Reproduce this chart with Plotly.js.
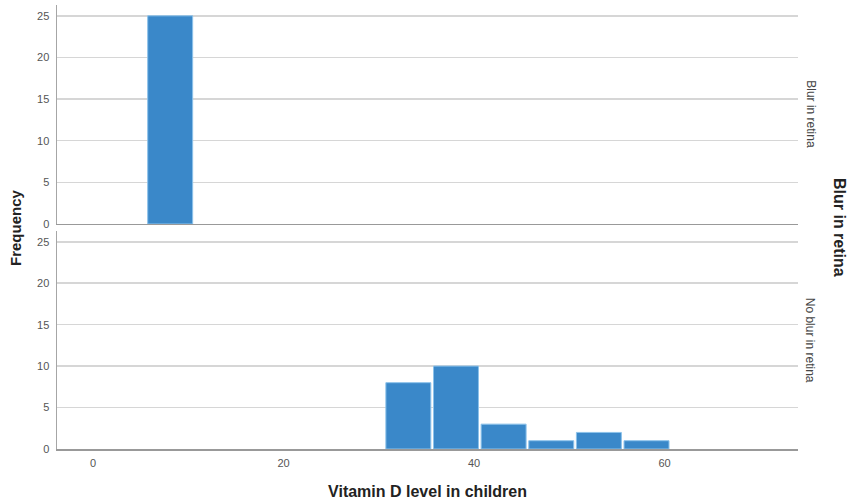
<!DOCTYPE html>
<html>
<head>
<meta charset="utf-8">
<script src="https://cdn.plot.ly/plotly-3.0.1.min.js"></script>
<style>html,body{margin:0;padding:0;background:#fff;}#chart{width:851px;height:504px;}</style>
</head>
<body>
<div id="chart"></div>
<script>
// Bin centres (Vitamin D level) and frequencies per panel
const blurCenters = [8.1];
const blurCounts = [25];
const noBlurCenters = [33.1, 38.1, 43.1, 48.1, 53.1, 58.1];
const noBlurCounts = [8, 10, 3, 1, 2, 1];
const panelLabels = ["Blur in retina", "No blur in retina"];
const xTicks = [0, 20, 40, 60];
const yTicks = [0, 5, 10, 15, 20, 25];

const barStyle = {color: '#3a88c9', line: {color: '#8cc2ea', width: 1}};
const font = 'Arial, "Liberation Sans", sans-serif';

const traces = [
  {type: 'bar', x: blurCenters, y: blurCounts, width: 4.72, marker: barStyle, xaxis: 'x', yaxis: 'y', hoverinfo: 'x+y'},
  {type: 'bar', x: noBlurCenters, y: noBlurCounts, width: 4.72, marker: barStyle, xaxis: 'x2', yaxis: 'y2', hoverinfo: 'x+y'}
];

const yBase = {
  range: [0, 26.3], tickvals: yTicks, ticks: '', showgrid: true, gridcolor: '#d6d6d6', gridwidth: 1.5,
  showline: true, linecolor: '#a6a6a6', linewidth: 1.5, zeroline: false,
  tickfont: {family: font, size: 11, color: '#555'}, ticklabelstandoff: 4
};
const xBase = {
  range: [-3.78, 74], tickvals: xTicks, ticks: '', showgrid: false, zeroline: false,
  showline: true, linecolor: '#999', linewidth: 1.5,
  tickfont: {family: font, size: 11, color: '#555'}
};

const layout = {
  width: 851, height: 504,
  margin: {l: 57, r: 53, t: 5, b: 55},
  paper_bgcolor: '#fff', plot_bgcolor: '#fff',
  showlegend: false, bargap: 0,
  xaxis: Object.assign({}, xBase, {anchor: 'y', showticklabels: false}),
  yaxis: Object.assign({}, yBase, {domain: [0.5068, 1], anchor: 'x'}),
  xaxis2: Object.assign({}, xBase, {anchor: 'y2', ticklabelstandoff: 3,
    title: {text: 'Vitamin D level in children', font: {family: font, size: 16, color: '#222', weight: 'bold'}, standoff: 18}}),
  yaxis2: Object.assign({}, yBase, {domain: [0, 0.491], anchor: 'x2'}),
  annotations: [
    {text: panelLabels[0], xref: 'paper', yref: 'paper', x: 1.0165, y: 0.7534, textangle: 90, showarrow: false,
     xanchor: 'center', yanchor: 'middle', font: {family: font, size: 12, color: '#444'}},
    {text: panelLabels[1], xref: 'paper', yref: 'paper', x: 1.0165, y: 0.2455, textangle: 90, showarrow: false,
     xanchor: 'center', yanchor: 'middle', font: {family: font, size: 12, color: '#444'}},
    {text: '<b>Blur in retina</b>', xref: 'paper', yref: 'paper', x: 1.0567, y: 0.5, textangle: 90, showarrow: false,
     xanchor: 'center', yanchor: 'middle', font: {family: font, size: 16, color: '#222'}},
    {text: '<b>Frequency</b>', xref: 'paper', yref: 'paper', x: -0.0567, y: 0.5, textangle: -90, showarrow: false,
     xanchor: 'center', yanchor: 'middle', font: {family: font, size: 15, color: '#222'}}
  ]
};

Plotly.newPlot('chart', traces, layout, {displayModeBar: false, staticPlot: true});
</script>
</body>
</html>
